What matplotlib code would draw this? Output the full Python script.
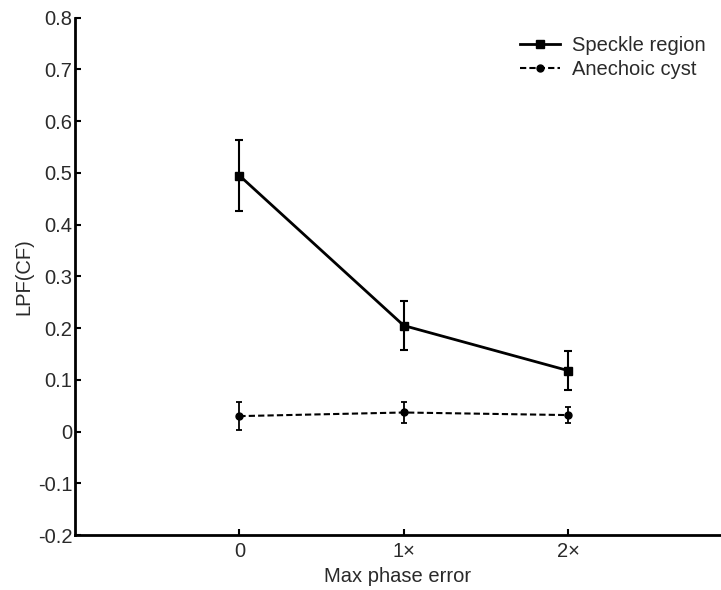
import matplotlib
matplotlib.use("Agg")
import matplotlib.pyplot as plt
from matplotlib.lines import Line2D

plt.rcParams["font.family"] = ["Liberation Sans", "DejaVu Sans"]

x_labels = ["0", "1×", "2×"]
speckle = [0.495, 0.205, 0.118]
speckle_err = [0.068, 0.048, 0.037]
cyst = [0.030, 0.037, 0.032]
cyst_err = [0.027, 0.020, 0.015]

FS = 14.5
TXT = "#2a2a2a"

fig = plt.figure(figsize=(7.21, 5.90), dpi=100)
ax = fig.add_axes([0.104, 0.093, 0.896, 0.877])

x = range(len(x_labels))
ax.errorbar(x, speckle, yerr=speckle_err, color="black", lw=2.0, marker="s",
            ms=6, capsize=3, elinewidth=1.5, capthick=1.5)
ax.errorbar(x, cyst, yerr=cyst_err, color="black", lw=1.5, ls=(0, (3, 1.5)),
            marker="o", ms=5, capsize=2.5, elinewidth=1.3, capthick=1.3)

ax.set_xlim(-1, 2.93)
ax.set_ylim(-0.2, 0.8)
ax.set_xticks(list(x))
ax.set_xticklabels(x_labels)
ax.set_yticks([-0.2, -0.1, 0, 0.1, 0.2, 0.3, 0.4, 0.5, 0.6, 0.7, 0.8])
ax.set_yticklabels(["-0.2", "-0.1", "0", "0.1", "0.2", "0.3", "0.4", "0.5",
                    "0.6", "0.7", "0.8"])
ax.tick_params(direction="in", length=4, width=1.5, labelsize=FS,
               labelcolor=TXT, pad=2)
ax.tick_params(axis="x", pad=5)
for side in ("top", "right"):
    ax.spines[side].set_visible(False)
for side in ("left", "bottom"):
    ax.spines[side].set_linewidth(2.0)
ax.set_xlabel("Max phase error", fontsize=FS, color=TXT, labelpad=4)
ax.set_ylabel("LPF(CF)", fontsize=FS, color=TXT, labelpad=3)

handles = [
    Line2D([], [], color="black", lw=2.0, marker="s", ms=6),
    Line2D([], [], color="black", lw=1.5, ls=(0, (3, 1.5)), marker="o", ms=5),
]
leg = ax.legend(handles, ["Speckle region", "Anechoic cyst"], loc="upper right",
                bbox_to_anchor=(1.005, 1.0), frameon=False, fontsize=FS,
                handlelength=2.0, handletextpad=0.6, labelspacing=0.25)
for t in leg.get_texts():
    t.set_color(TXT)

fig.savefig("out.png", dpi=100)
